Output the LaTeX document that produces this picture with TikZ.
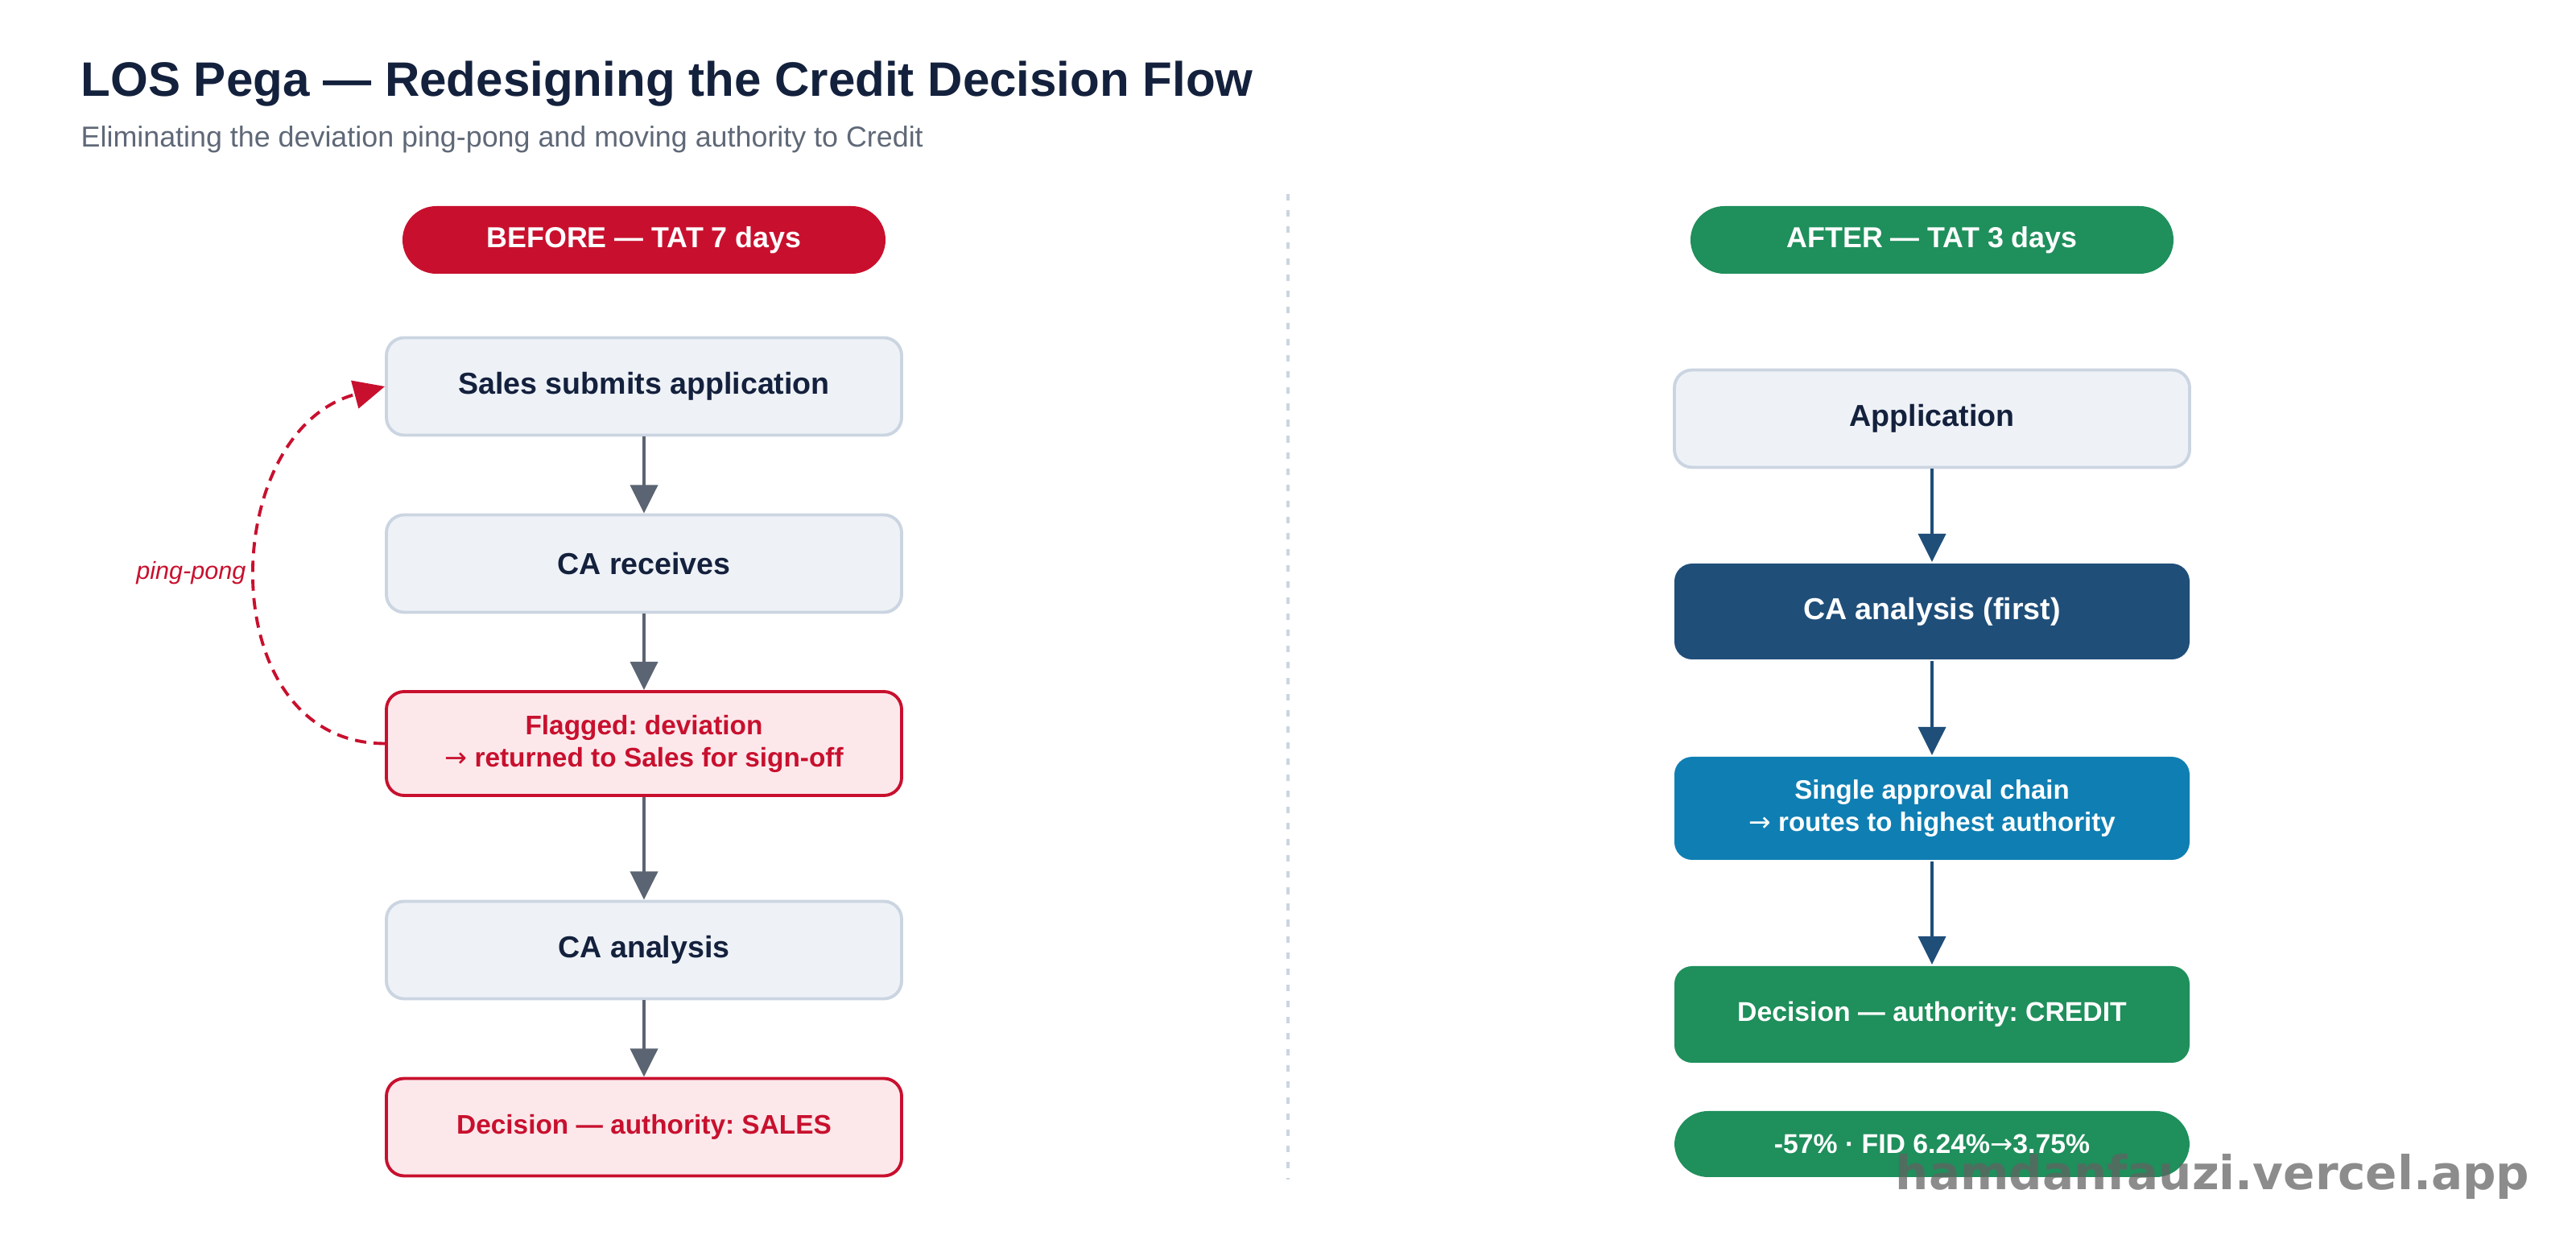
\documentclass[tikz,border=0pt]{standalone}
\usepackage{fontspec}
\setmainfont{Liberation Sans}
\newfontfamily\arrowfont{DejaVu Sans}
\newfontfamily\stampfont{DejaVu Sans}
\usetikzlibrary{arrows.meta}
\frenchspacing

\definecolor{ink}{HTML}{14213D}
\definecolor{muted}{HTML}{5F6877}
\definecolor{alert}{HTML}{C8102E}
\definecolor{alertfill}{HTML}{FCE8EB}
\definecolor{plainfill}{HTML}{EEF2F7}
\definecolor{plainline}{HTML}{CBD5E1}
\definecolor{flowgray}{HTML}{5B6472}
\definecolor{navy}{HTML}{1F4E79}
\definecolor{sky}{HTML}{0F7FB3}
\definecolor{okgreen}{HTML}{1F8F5C}
\definecolor{stamp}{RGB}{98,98,98}

\newcommand{\ra}{{\arrowfont\mdseries →}}

\tikzset{
  stepbox/.style={rectangle, rounded corners=0.22cm, minimum width=6.4cm,
    minimum height=1.21cm, line width=1.1pt, align=center, inner sep=0pt,
    font=\fontsize{10.7}{13}\selectfont\bfseries},
  plainbox/.style={stepbox, draw=plainline, fill=plainfill, text=ink},
  flagbox/.style={stepbox, draw=alert, fill=alertfill, text=alert,
    font=\fontsize{9.5}{11.4}\selectfont\bfseries},
  fillbox/.style={stepbox, text=white},
  pill/.style={rectangle, rounded corners=0.42cm, minimum width=6.0cm,
    minimum height=0.84cm, inner sep=0pt, text=white,
    font=\fontsize{10.2}{12}\selectfont\bfseries},
  flow/.style={line width=1.4pt, draw=flowgray,
    -{Triangle[length=10pt,width=9.6pt]}},
  newflow/.style={flow, draw=navy},
  pingpong/.style={draw=alert, line width=1.1pt, dash pattern=on 4pt off 2.6pt,
    -{Triangle[length=11pt,width=10pt]}}
}

\begin{document}
\begin{tikzpicture}
  \useasboundingbox (0,0) rectangle (32,-15.6);

  \node[anchor=base west, inner sep=0pt, text=ink, font=\fontsize{17.1}{20}\selectfont\bfseries]
    (title) at (1.00,-1.20) {LOS Pega — Redesigning the Credit Decision Flow};
  \node[anchor=base west, inner sep=0pt, text=muted, font=\fontsize{10.2}{12}\selectfont]
    (subtitle) at (1.00,-1.83) {Eliminating the deviation ping-pong and moving authority to Credit};

  \draw[plainline, line width=1.1pt, dash pattern=on 2.3pt off 3.4pt] (16,-2.41) -- (16,-14.65);

  \node[pill, fill=alert] (before) at (8,-2.98) {BEFORE — TAT 7 days};
  \node[plainbox] (sales) at (8,-4.80) {Sales submits application};
  \node[plainbox] (recv) at (8,-7.00) {CA receives};
  \node[flagbox, minimum height=1.29cm] (flag) at (8,-9.235)
    {Flagged: deviation\\ \ra{} returned to Sales for sign-off};
  \node[plainbox] (caan) at (8,-11.80) {CA analysis};
  \node[flagbox] (salesdec) at (8,-14.00) {Decision — authority: SALES};
  \node[anchor=east, inner sep=0pt, text=alert, font=\fontsize{8.7}{10}\selectfont\itshape]
    (pplabel) at (3.06,-7.12) {ping-pong};

  \node[pill, fill=okgreen] (after) at (24,-2.98) {AFTER — TAT 3 days};
  \node[plainbox] (app) at (24,-5.20) {Application};
  \node[fillbox, fill=navy, minimum height=1.19cm] (cafirst) at (24,-7.595) {CA analysis (first)};
  \node[fillbox, fill=sky, minimum height=1.28cm,
    font=\fontsize{9.4}{11.4}\selectfont\bfseries] (chain) at (24,-10.04)
    {Single approval chain\\ \ra{} routes to highest authority};
  \node[fillbox, fill=okgreen, minimum height=1.20cm,
    font=\fontsize{9.6}{11.4}\selectfont\bfseries] (creditdec) at (24,-12.60)
    {Decision — authority: CREDIT};
  \node[pill, fill=okgreen, minimum width=6.4cm, minimum height=0.82cm,
    font=\fontsize{9.6}{11.4}\selectfont\bfseries] (gain) at (24,-14.21)
    {-57\% · FID 6.24\%\ra 3.75\%};

  \begin{scope}[flow]
    \draw (sales) -- (recv);
    \draw (recv) -- (flag);
    \draw (flag) -- (caan);
    \draw (caan) -- (salesdec);
  \end{scope}
  \begin{scope}[newflow]
    \draw (app) -- (cafirst);
    \draw (cafirst) -- (chain);
    \draw (chain) -- (creditdec);
  \end{scope}
  \draw[pingpong] (flag.west) to[out=180, in=195, looseness=1.25] (sales.west);

  \node[anchor=base east, inner sep=0pt, text=stamp, text opacity=0.73,
    font=\fontsize{16.5}{20}\stampfont\bfseries] (stamp) at (31.43,-14.78)
    {hamdanfauzi.vercel.app};
\end{tikzpicture}
\end{document}
